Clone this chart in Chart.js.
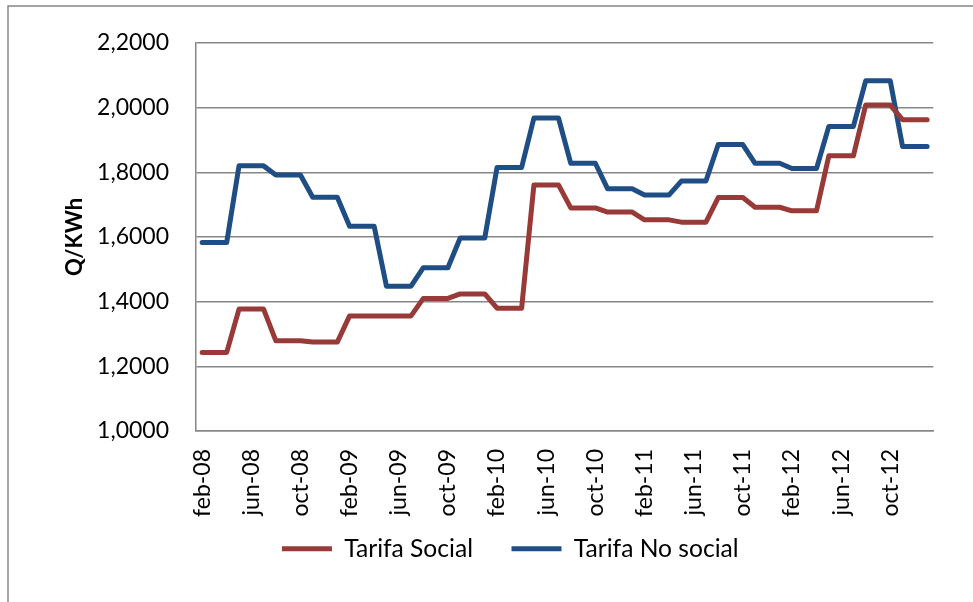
<!DOCTYPE html>
<html>
<head>
<meta charset="utf-8">
<script src="https://cdn.jsdelivr.net/npm/chart.js@4"></script>
<style>
  html, body { margin: 0; padding: 0; background: #ffffff; }
  #wrap { width: 973px; height: 602px; }
</style>
</head>
<body>
<div id="wrap"><canvas id="c" width="973" height="602"></canvas></div>
<script>
const categories = [
  'feb-08','mar-08','abr-08','may-08','jun-08','jul-08','ago-08','sep-08','oct-08','nov-08','dic-08',
  'ene-09','feb-09','mar-09','abr-09','may-09','jun-09','jul-09','ago-09','sep-09','oct-09','nov-09','dic-09',
  'ene-10','feb-10','mar-10','abr-10','may-10','jun-10','jul-10','ago-10','sep-10','oct-10','nov-10','dic-10',
  'ene-11','feb-11','mar-11','abr-11','may-11','jun-11','jul-11','ago-11','sep-11','oct-11','nov-11','dic-11',
  'ene-12','feb-12','mar-12','abr-12','may-12','jun-12','jul-12','ago-12','sep-12','oct-12','nov-12','dic-12',
  'ene-13'
];

const tarifaSocial = [
  1.243, 1.243, 1.243, 1.377, 1.377, 1.377, 1.279, 1.279, 1.279, 1.275, 1.275,
  1.275, 1.356, 1.356, 1.356, 1.356, 1.356, 1.356, 1.410, 1.410, 1.410, 1.424, 1.424,
  1.424, 1.380, 1.380, 1.380, 1.761, 1.761, 1.761, 1.690, 1.690, 1.690, 1.677, 1.677,
  1.677, 1.653, 1.653, 1.653, 1.646, 1.646, 1.646, 1.722, 1.722, 1.722, 1.692, 1.692,
  1.692, 1.681, 1.681, 1.681, 1.851, 1.851, 1.851, 2.008, 2.008, 2.008, 1.963, 1.963,
  1.963
];

const tarifaNoSocial = [
  1.583, 1.583, 1.583, 1.820, 1.820, 1.820, 1.792, 1.792, 1.792, 1.723, 1.723,
  1.723, 1.633, 1.633, 1.633, 1.448, 1.448, 1.448, 1.505, 1.505, 1.505, 1.597, 1.597,
  1.597, 1.815, 1.815, 1.815, 1.968, 1.968, 1.968, 1.828, 1.828, 1.828, 1.749, 1.749,
  1.749, 1.730, 1.730, 1.730, 1.773, 1.773, 1.773, 1.886, 1.886, 1.886, 1.828, 1.828,
  1.828, 1.812, 1.812, 1.812, 1.942, 1.942, 1.942, 2.083, 2.083, 2.083, 1.880, 1.880,
  1.880
];

const yTicks = [1.0, 1.2, 1.4, 1.6, 1.8, 2.0, 2.2];
const seriesNames = ['Tarifa Social', 'Tarifa No social'];
const yTitle = 'Q/KWh';

const FONT = 'Lato, "Open Sans", sans-serif';
const GRID = '#878787';

const frame = {
  id: 'frame',
  beforeDraw(chart) {
    const ctx = chart.ctx;
    ctx.save();
    ctx.fillStyle = '#ffffff';
    ctx.fillRect(0, 0, chart.width, chart.height);
    ctx.strokeStyle = GRID;
    ctx.lineWidth = 1.5;
    ctx.strokeRect(8, 6, chart.width + 20, chart.height + 20);
    ctx.restore();
  }
};

// move the legend row up to sit just under the rotated month labels
const legendShift = {
  id: 'legendShift',
  afterLayout(chart) {
    if (chart.legend) {
      chart.legend.top -= 23;
      chart.legend.bottom -= 23;
    }
  }
};

new Chart(document.getElementById('c'), {
  type: 'line',
  data: {
    labels: categories,
    datasets: [
      {
        label: seriesNames[0],
        data: tarifaSocial,
        borderColor: '#983A37',
        backgroundColor: '#983A37',
        borderWidth: 5,
        pointRadius: 0,
        tension: 0,
        borderJoinStyle: 'round',
        borderCapStyle: 'round',
        pointStyle: 'line'
      },
      {
        label: seriesNames[1],
        data: tarifaNoSocial,
        borderColor: '#1F4E85',
        backgroundColor: '#1F4E85',
        borderWidth: 5,
        pointRadius: 0,
        tension: 0,
        borderJoinStyle: 'round',
        borderCapStyle: 'round',
        pointStyle: 'line'
      }
    ]
  },
  options: {
    responsive: false,
    animation: false,
    layout: { padding: { left: 62, right: 14.5, top: 43, bottom: 7.9 } },
    plugins: {
      tooltip: { enabled: false },
      legend: {
        position: 'bottom',
        labels: {
          usePointStyle: true,
          pointStyle: 'line',
          pointStyleWidth: 50,
          boxHeight: 24.6,
          padding: 38.5,
          color: '#000000',
          font: { family: FONT, size: 24.6 }
        }
      }
    },
    scales: {
      x: {
        type: 'category',
        offset: true,
        grid: { display: false, drawTicks: false },
        border: { display: true, color: GRID, width: 1.5 },
        ticks: {
          autoSkip: false,
          maxRotation: 90,
          minRotation: 90,
          padding: 18,
          color: '#000000',
          font: { family: FONT, size: 23 },
          callback: function (value, index) {
            return index % 4 === 0 ? categories[index] : '';
          }
        },
        afterFit(scale) { scale.height = 90; }
      },
      y: {
        position: 'left',
        min: 1.0,
        max: 2.2,
        afterBuildTicks(scale) { scale.ticks = yTicks.map(v => ({ value: v })); },
        grid: { color: GRID, lineWidth: 1.5, drawTicks: false },
        border: { display: true, color: GRID, width: 1.5 },
        ticks: {
          padding: 27,
          color: '#000000',
          font: { family: FONT, size: 23 },
          callback: v => Number(v).toFixed(4).replace('.', ',')
        },
        title: {
          display: true,
          text: yTitle,
          color: '#000000',
          padding: 0,
          font: { family: FONT, size: 22, weight: 'bold' }
        },
        afterFit(scale) { scale.width = 134; }
      },
      yRight: {
        position: 'right',
        display: true,
        grid: { display: false, drawTicks: false },
        border: { display: false },
        ticks: { display: false },
        afterFit(scale) { scale.width = 19.5; }
      }
    }
  },
  plugins: [frame, legendShift]
});
</script>
</body>
</html>
